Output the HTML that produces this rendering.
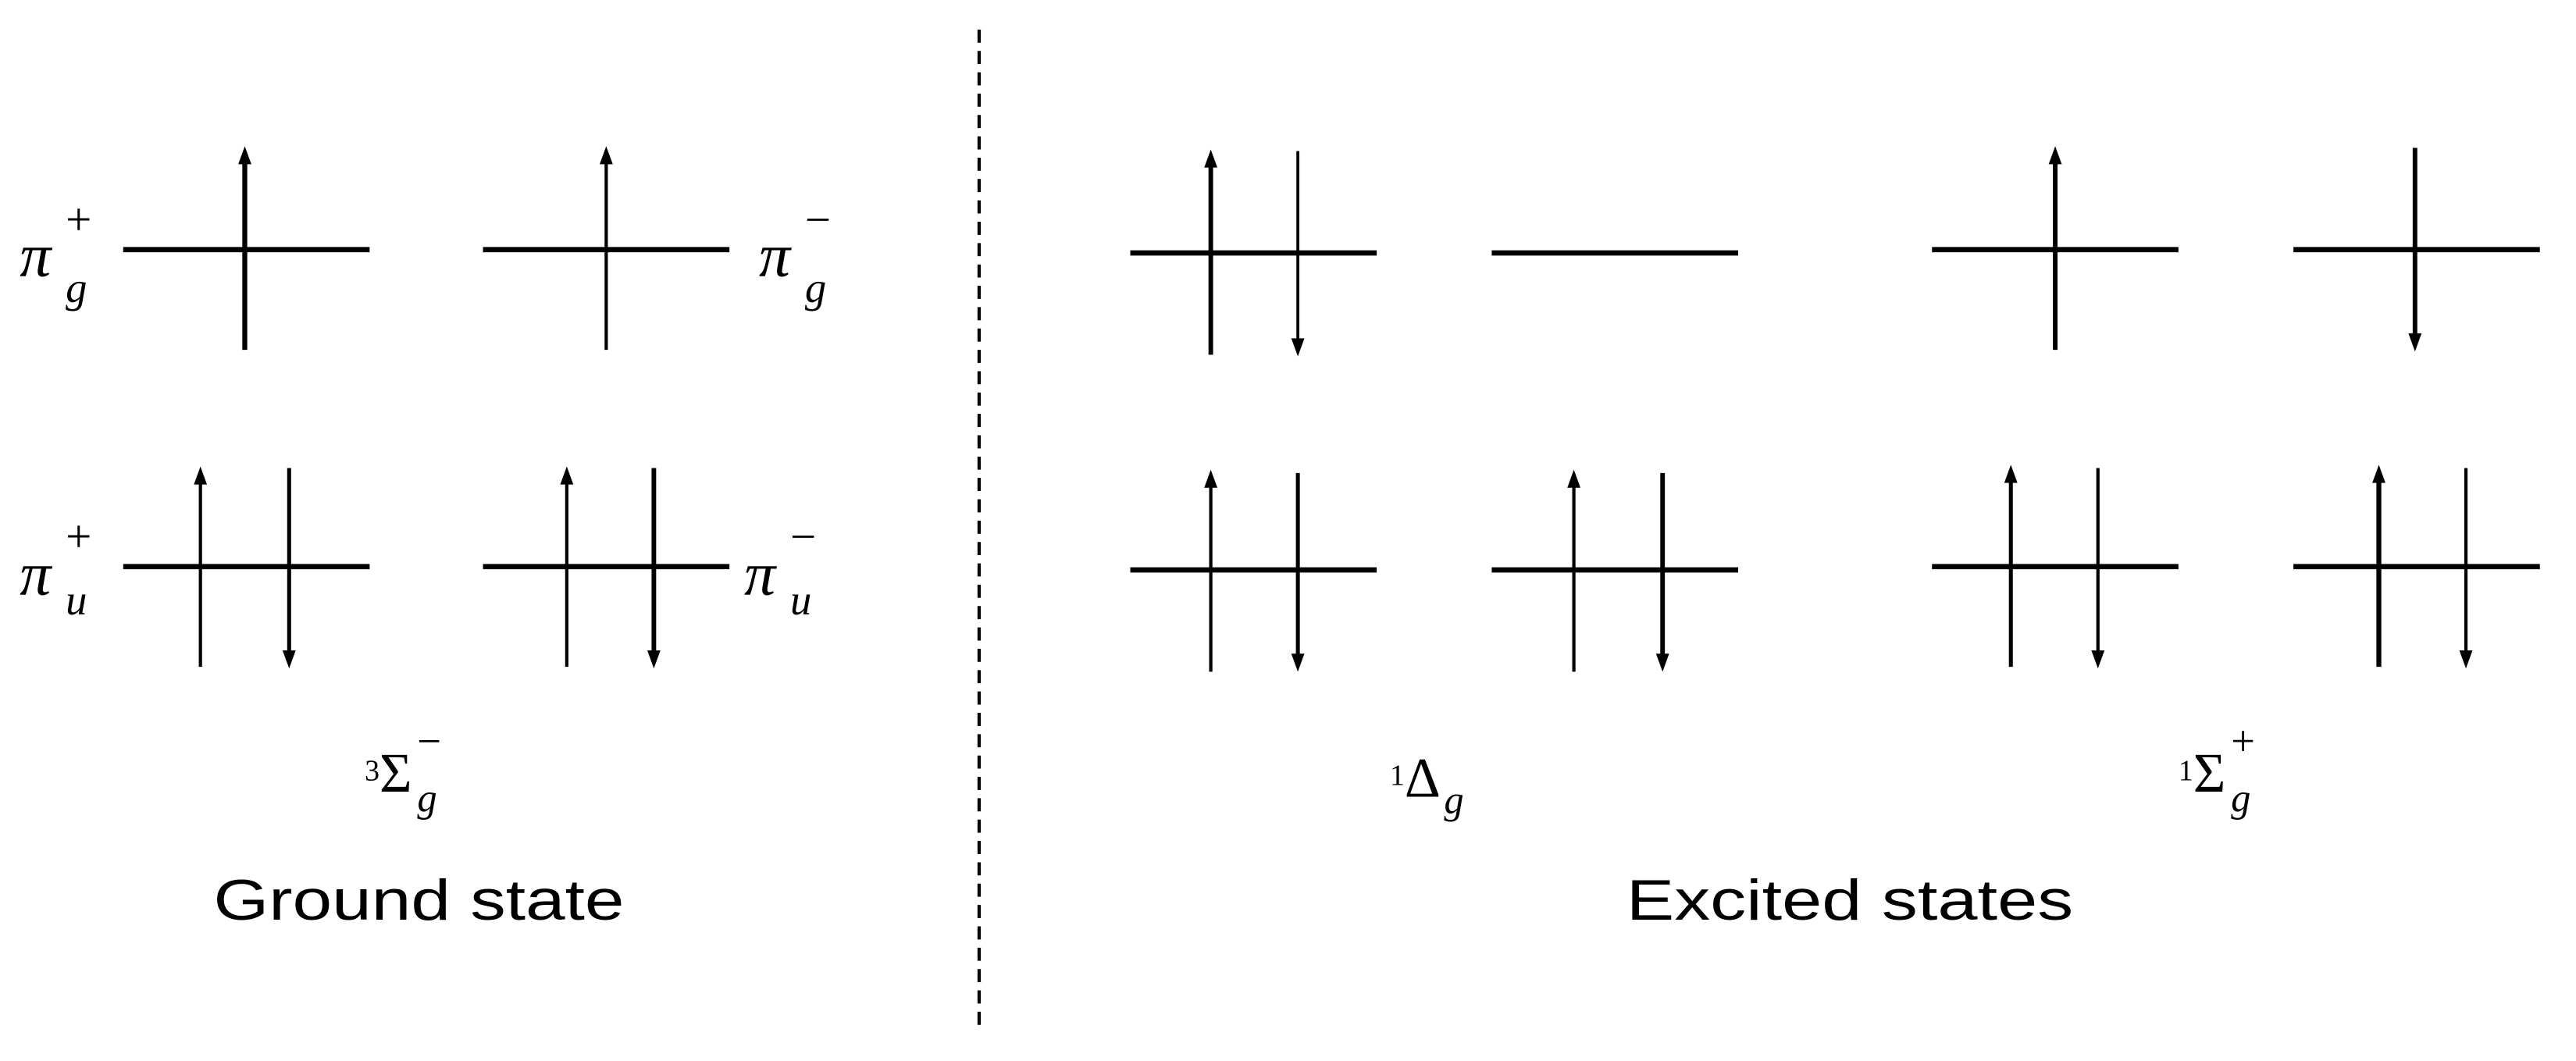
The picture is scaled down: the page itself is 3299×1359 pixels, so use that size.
<!DOCTYPE html>
<html><head><meta charset="utf-8"><style>
html,body{margin:0;padding:0;background:#fff;}
svg{display:block;}
</style></head><body>
<svg width="3299" height="1359" viewBox="0 0 1568 646" preserveAspectRatio="none" xmlns="http://www.w3.org/2000/svg">
<defs>
<marker id="ah" viewBox="0 0 10 10" refX="9" refY="5" markerWidth="4" markerHeight="5" orient="auto" markerUnits="userSpaceOnUse">
</marker>
</defs>
<g stroke="#000" fill="none">
<line x1="596" y1="18" x2="596" y2="628" stroke-width="2" stroke-dasharray="8,5"/>
<!-- horizontal levels -->
<g stroke-width="3.2">
<line x1="75" y1="152" x2="225" y2="152"/>
<line x1="294" y1="152" x2="444" y2="152"/>
<line x1="75" y1="345" x2="225" y2="345"/>
<line x1="294" y1="345" x2="444" y2="345"/>
<line x1="688" y1="154" x2="838" y2="154"/>
<line x1="908" y1="154" x2="1058" y2="154"/>
<line x1="1176" y1="152" x2="1326" y2="152"/>
<line x1="1396" y1="152" x2="1546" y2="152"/>
<line x1="688" y1="347" x2="838" y2="347"/>
<line x1="908" y1="347" x2="1058" y2="347"/>
<line x1="1176" y1="345" x2="1326" y2="345"/>
<line x1="1396" y1="345" x2="1546" y2="345"/>
</g>
<!-- vertical shafts -->
<g stroke-width="2.4">
<line x1="149" y1="98" x2="149" y2="213" stroke-width="3"/>
<line x1="369" y1="98" x2="369" y2="213" stroke-width="2"/>
<line x1="122" y1="293" x2="122" y2="406" stroke-width="2"/>
<line x1="176" y1="285" x2="176" y2="398"/>
<line x1="345" y1="293" x2="345" y2="406" stroke-width="2"/>
<line x1="398" y1="285" x2="398" y2="398" stroke-width="2.8"/>
<line x1="737" y1="100" x2="737" y2="216" stroke-width="2.8"/>
<line x1="790" y1="92" x2="790" y2="208" stroke-width="1.8"/>
<line x1="1251" y1="98" x2="1251" y2="213" stroke-width="2.8"/>
<line x1="1470" y1="90" x2="1470" y2="205" stroke-width="2.8"/>
<line x1="737" y1="295" x2="737" y2="409" stroke-width="2"/>
<line x1="790" y1="288" x2="790" y2="400"/>
<line x1="958" y1="295" x2="958" y2="409" stroke-width="2"/>
<line x1="1012" y1="288" x2="1012" y2="400" stroke-width="2.8"/>
<line x1="1224" y1="292" x2="1224" y2="406"/>
<line x1="1277" y1="285" x2="1277" y2="398" stroke-width="2"/>
<line x1="1448" y1="292" x2="1448" y2="406" stroke-width="3"/>
<line x1="1501" y1="285" x2="1501" y2="398" stroke-width="2"/>
</g>
</g>
<g fill="#000">
<!-- up heads: tip at (x,y) -->
<polygon points="149,89 145,100 153,100"/>
<polygon points="369,89 365,100 373,100"/>
<polygon points="122,284 118,295 126,295"/>
<polygon points="345,284 341,295 349,295"/>
<polygon points="737,91 733,102 741,102"/>
<polygon points="1251,89 1247,100 1255,100"/>
<polygon points="737,286 733,297 741,297"/>
<polygon points="958,286 954,297 962,297"/>
<polygon points="1224,283 1220,294 1228,294"/>
<polygon points="1448,283 1444,294 1452,294"/>
<!-- down heads -->
<polygon points="176,407 172,396 180,396"/>
<polygon points="398,407 394,396 402,396"/>
<polygon points="790,217 786,206 794,206"/>
<polygon points="1470,214 1466,203 1474,203"/>
<polygon points="790,409 786,398 794,398"/>
<polygon points="1012,409 1008,398 1016,398"/>
<polygon points="1277,407 1273,396 1281,396"/>
<polygon points="1501,407 1497,396 1505,396"/>
</g>
<g font-family="'Liberation Serif', serif" font-style="italic" fill="#000">
<text x="12" y="168" font-size="38">π</text><text x="40" y="184" font-size="26">g</text><text x="40" y="143" font-size="28" font-style="normal">+</text>
<text x="462" y="168" font-size="38">π</text><text x="490" y="184" font-size="26">g</text><text x="490" y="143" font-size="28" font-style="normal">−</text>
<text x="12" y="362" font-size="38">π</text><text x="40" y="374" font-size="26">u</text><text x="40" y="336" font-size="28" font-style="normal">+</text>
<text x="453" y="362" font-size="38">π</text><text x="481" y="374" font-size="26">u</text><text x="481" y="336" font-size="28" font-style="normal">−</text>
</g>
<g font-family="'Liberation Serif', serif" fill="#000">
<text x="222" y="475" font-size="18">3</text><text x="231" y="482" font-size="34">Σ</text><text x="254" y="494" font-size="24" font-style="italic">g</text><text x="254" y="460" font-size="26">−</text>
<text x="846" y="478" font-size="18">1</text><text x="855" y="485" font-size="34">Δ</text><text x="879" y="495" font-size="24" font-style="italic">g</text>
<text x="1326" y="475" font-size="18">1</text><text x="1335" y="482" font-size="34">Σ</text><text x="1358" y="494" font-size="24" font-style="italic">g</text><text x="1358" y="460" font-size="26">+</text>
</g>
<g font-family="'Liberation Sans', sans-serif" fill="#000" font-size="35">
<text x="130" y="560" textLength="250" lengthAdjust="spacingAndGlyphs">Ground state</text>
<text x="990" y="560" textLength="272" lengthAdjust="spacingAndGlyphs">Excited states</text>
</g>
</svg>
</body></html>
